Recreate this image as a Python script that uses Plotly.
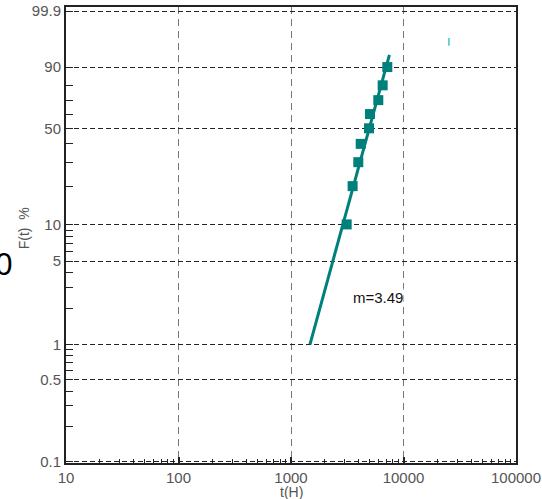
import numpy as np
import plotly.graph_objects as go

# ---- data ----
t_hours = [3125, 3530, 3965, 4165, 4935, 5035, 5970, 6530, 7180]
f_percent = [10, 20, 30, 40, 50, 60, 70, 80, 90]

fit_t = [1475, 7500]
fit_f = [1, 94.6]
slope_label = "m=3.49"

y_major_pct = [0.1, 0.5, 1, 5, 10, 50, 90, 99.9]
y_major_text = ["0.1", "0.5", "1", "5", "10", "50", "90", "99.9"]
y_minor_pct = [0.2, 0.3, 0.4, 0.6, 0.7, 0.8, 0.9, 2, 3, 4, 6, 7, 8, 9,
               20, 30, 40, 60, 70, 80]
x_major = [10, 100, 1000, 10000, 100000]
x_major_text = ["10", "100", "1000", "10000", "100000"]
x_minor = [m * d for d in (10, 100, 1000, 10000) for m in range(2, 10)]


def weib(p):
    p = np.asarray(p, dtype=float) / 100.0
    return np.log(-np.log(1.0 - p))


TEAL = "#00807b"
GRAY = "#555555"
FONT = "Liberation Sans, Arial, sans-serif"

fig = go.Figure()
fig.add_trace(go.Scatter(
    x=fit_t, y=weib(fit_f), mode="lines",
    line=dict(color=TEAL, width=3), showlegend=False, hoverinfo="skip"))
fig.add_trace(go.Scatter(
    x=t_hours, y=weib(f_percent), mode="markers",
    marker=dict(symbol="square", size=10, color=TEAL), showlegend=False))

fig.update_layout(
    width=542, height=499,
    margin=dict(l=66, r=26, t=7, b=36, autoexpand=False),
    paper_bgcolor="white", plot_bgcolor="white",
    font=dict(family=FONT, size=15, color=GRAY),
    xaxis=dict(
        type="log", range=[1, 5], automargin=False,
        tickmode="array", tickvals=x_major, ticktext=x_major_text,
        ticks="inside", ticklen=6, tickwidth=1.5, tickcolor="#222",
        showline=True, linecolor="#222", linewidth=2, mirror=True,
        showgrid=True, gridcolor="#777", gridwidth=1.3, griddash="7px,5px",
        zeroline=False,
        minor=dict(tickmode="array", tickvals=x_minor, ticks="inside",
                   ticklen=4, tickwidth=1.3, tickcolor="#222", showgrid=False),
        tickfont=dict(size=15, color=GRAY),
    ),
    yaxis=dict(
        range=[-6.927, 2.011], automargin=False,
        tickmode="array", tickvals=weib(y_major_pct), ticktext=y_major_text,
        ticks="inside", ticklen=7, tickwidth=1.3, tickcolor="#222",
        showline=True, linecolor="#222", linewidth=2, mirror=True,
        showgrid=True, gridcolor="#222", gridwidth=1, griddash="5px,3px",
        zeroline=False,
        minor=dict(tickmode="array", tickvals=weib(y_minor_pct), ticks="inside",
                   ticklen=7, tickwidth=1.3, tickcolor="#222", showgrid=False),
        tickfont=dict(size=15, color=GRAY),
    ),
    annotations=[
        dict(text=slope_label, x=np.log10(5880), y=float(weib([2.5])[0]),
             xref="x", yref="y", xanchor="center", showarrow=False,
             bgcolor="white", borderpad=0,
             font=dict(family=FONT, size=15, color="#111")),
        dict(text="t(H)", x=0.5, y=-0.064, xref="paper", yref="paper",
             xanchor="center", yanchor="middle", showarrow=False,
             font=dict(family=FONT, size=14, color=GRAY)),
        dict(text="F(t)  %", x=-0.093, y=0.515, xref="paper", yref="paper",
             xanchor="center", yanchor="middle", showarrow=False,
             textangle=-90, font=dict(family=FONT, size=14, color=GRAY)),
        dict(text="10", x=-0.115, y=0.435, xref="paper", yref="paper",
             xanchor="right", showarrow=False,
             font=dict(family=FONT, size=31, color="#000")),
    ],
    shapes=[
        dict(type="line", xref="paper", yref="paper", x0=0.851, x1=0.851,
             y0=0.915, y1=0.932, line=dict(color="#40c4c4", width=1.5)),
    ],
)

fig.write_html("out.html", config={"displayModeBar": False},
               post_script="document.body.style.margin='0';")
